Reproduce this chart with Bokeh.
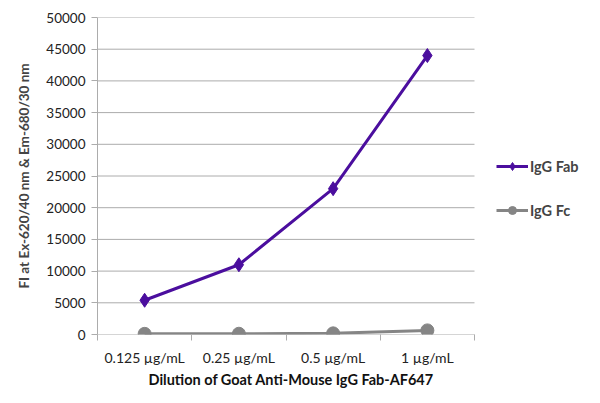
from bokeh.plotting import figure
from bokeh.models import FixedTicker, Legend, LegendItem, Range1d, Title
from bokeh.embed import file_html
from bokeh.resources import INLINE

categories = ["0.125 µg/mL", "0.25 µg/mL", "0.5 µg/mL", "1 µg/mL"]
fab_values = [5400, 11000, 23000, 44000]
fc_values = [100, 120, 180, 650]
y_ticks = list(range(0, 50001, 5000))

xs = list(range(1, len(categories) + 1))
FONT = "Lato"
PURPLE = "#4b0e9e"
GREY = "#858585"
AXIS_GREY = "#acacac"

x_start = 0.5
x_end = len(categories) + 0.5
unit_px = 377 / (x_end - x_start)
frame_w = 495
p = figure(frame_width=frame_w, frame_height=317, output_backend="svg", toolbar_location=None,
           x_range=Range1d(x_start, x_start + frame_w / unit_px), y_range=Range1d(0, 50000),
           min_border_left=97, min_border_top=17, min_border_bottom=55, min_border_right=0)
p.outline_line_color = None
p.background_fill_color = "white"
p.xgrid.grid_line_color = None
p.ygrid.grid_line_color = None

# horizontal gridlines only across the category area
p.segment(x0=[x_start] * len(y_ticks), x1=[x_end] * len(y_ticks), y0=y_ticks, y1=y_ticks,
          line_color=AXIS_GREY, line_width=1)

p.xaxis.ticker = FixedTicker(ticks=xs, minor_ticks=[x - 0.5 for x in xs] + [xs[-1] + 0.5])
p.xaxis.major_label_overrides = {x: c for x, c in zip(xs, categories)}
p.xaxis.major_tick_line_color = None
p.xaxis.minor_tick_line_color = AXIS_GREY
p.xaxis.minor_tick_out = 6
p.xaxis.minor_tick_in = 0
p.xaxis.axis_line_color = None
p.xaxis.major_label_text_font = FONT
p.xaxis.major_label_text_font_size = "14px"
p.xaxis.major_label_text_color = "#222222"
p.xaxis.major_label_standoff = 8

xtitle = Title(text="Dilution of Goat Anti-Mouse IgG Fab-AF647", align="left", offset=51,
               text_font=FONT, text_font_style="bold", text_font_size="14.5px",
               text_color="#111111", standoff=0, text_line_height=0.9)
p.add_layout(xtitle, "below")

p.yaxis.ticker = FixedTicker(ticks=y_ticks)
p.yaxis.minor_tick_line_color = None
p.yaxis.major_tick_line_color = AXIS_GREY
p.yaxis.major_tick_out = 6
p.yaxis.major_tick_in = 0
p.yaxis.axis_line_color = AXIS_GREY
p.yaxis.major_label_text_font = FONT
p.yaxis.major_label_text_font_size = "13.5px"
p.yaxis.major_label_text_color = "#222222"
p.yaxis.major_label_standoff = 6
p.yaxis.axis_label = "FI at Ex-620/40 nm & Em-680/30 nm"
p.yaxis.axis_label_text_font = FONT
p.yaxis.axis_label_text_font_style = "bold"
p.yaxis.axis_label_text_font_size = "13.5px"
p.yaxis.axis_label_standoff = 11

fab_line = p.line(xs, fab_values, line_color=PURPLE, line_width=3)
fab_pts = p.scatter(xs, fab_values, marker="diamond", size=14, fill_color=PURPLE, line_color=PURPLE)
fc_line = p.line(xs, fc_values, line_color=GREY, line_width=3)
fc_pts = p.scatter(xs, fc_values, marker="circle", size=13, fill_color=GREY, line_color=GREY)

legend = Legend(items=[LegendItem(label="IgG Fab", renderers=[fab_line, fab_pts]),
                       LegendItem(label="IgG Fc", renderers=[fc_line, fc_pts])],
                location=(399, 114), orientation="vertical")
legend.border_line_color = None
legend.background_fill_alpha = 0
legend.label_text_font = FONT
legend.label_text_font_style = "bold"
legend.label_text_font_size = "14.5px"
legend.glyph_width = 32
legend.label_standoff = 2
legend.spacing = 24
legend.margin = 0
legend.padding = 0
p.add_layout(legend, "center")

open("out.html", "w").write(file_html(p, INLINE))
